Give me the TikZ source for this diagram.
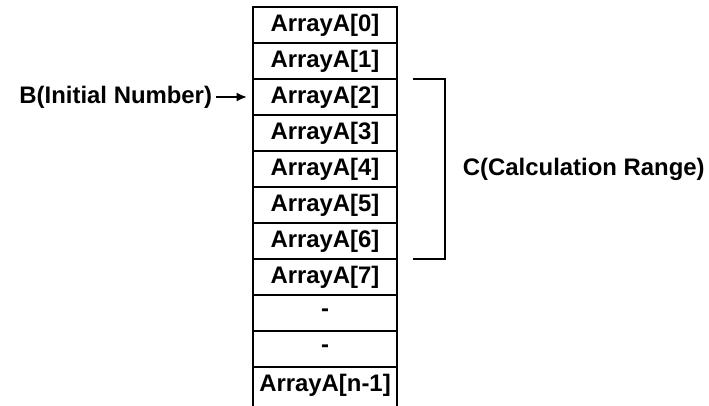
\documentclass[tikz,border=0pt]{standalone}
\usepackage{fontspec}
\setmainfont{Liberation Sans}
\usetikzlibrary{arrows.meta,positioning}

\begin{document}
\begin{tikzpicture}[
    >={Latex[length=2.6mm,width=2.3mm]},
    font=\fontsize{17}{20}\selectfont\bfseries,
    line width=1.4pt,
    cell/.style={draw,minimum height=9mm,minimum width=36mm,inner sep=0pt,outer sep=0pt},
    lastcell/.style={minimum height=9mm,minimum width=36mm,inner sep=0pt,outer sep=0pt},
    arr/.style={->,line width=2pt}
  ]
    \useasboundingbox (0,0) rectangle (17.725,-10.125);

    % Array cells
    \node[cell] (a0) at (8.125,-0.625) {ArrayA[0]};
    \node[cell] (a1) [below=0pt of a0] {ArrayA[1]};
    \node[cell] (a2) [below=0pt of a1] {ArrayA[2]};
    \node[cell] (a3) [below=0pt of a2] {ArrayA[3]};
    \node[cell] (a4) [below=0pt of a3] {ArrayA[4]};
    \node[cell] (a5) [below=0pt of a4] {ArrayA[5]};
    \node[cell] (a6) [below=0pt of a5] {ArrayA[6]};
    \node[cell] (a7) [below=0pt of a6] {ArrayA[7]};
    \node[cell] (d1) [below=0pt of a7] {-};
    \node[cell] (d2) [below=0pt of d1] {-};
    \node[lastcell] (an) [below=0pt of d2] {ArrayA[n-1]};
    \draw (an.north west) -- ([yshift=-1mm]an.south west);
    \draw (an.north east) -- ([yshift=-1mm]an.south east);

    % Initial number
    \node[left=10mm of a2,inner sep=0pt] (init) {B(Initial Number)};
    \draw[arr,shorten <=0.75mm,shorten >=1.5mm] (init) -- (a2);

    % Calculation range bracket
    \coordinate[right=4mm of a1.south east] (ctop);
    \coordinate[right=4mm of a6.south east] (cbot);
    \draw (ctop) -- ++(8mm,0) |- (cbot);
    \node[right=16.25mm of a4,inner sep=0pt] (crange) {C(Calculation Range)};
  \end{tikzpicture}
\end{document}
